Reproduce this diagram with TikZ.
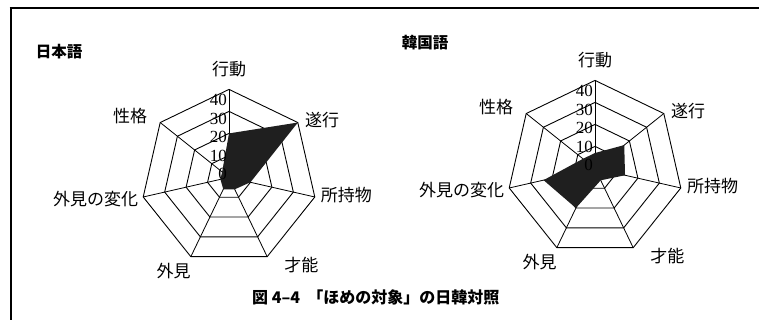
\documentclass[tikz,border=0pt]{standalone}
\usepackage{fontspec}
\newfontfamily\jpfont{Noto Sans CJK JP}
\newfontfamily\numfont{Liberation Serif}
\usetikzlibrary{positioning}
\tikzstyle{ring}=[draw,line width=0.9pt]
\tikzstyle{spoke}=[draw,line width=0.8pt]
\tikzstyle{datafill}=[fill=black!88]
\tikzstyle{axislabel}=[inner sep=0pt,font=\jpfont\fontsize{17}{17}\selectfont]
\tikzstyle{numlabel}=[inner sep=0pt,anchor=east,font=\numfont\fontsize{17}{17}\selectfont]
\tikzstyle{langlabel}=[inner sep=0pt,font=\jpfont\bfseries\fontsize{15.5}{15.5}\selectfont]
\tikzstyle{captionlabel}=[langlabel,anchor=west,font=\jpfont\bfseries\fontsize{16}{16}\selectfont]

\begin{document}
\begin{tikzpicture}[x=1pt, y=-1pt]
  \useasboundingbox (0,0) rectangle (759,320);
  \fill[white] (0,0) rectangle (759,320);
  % frame
  \draw[line width=2pt] (10.5,320) -- (10.5,8);
  \draw[line width=2.6pt] (9.5,8) -- (759,8);

  \foreach \c/\cx/\cy/\lang/\vals in {jp/229/177.4/日本語/{20,40,10,6,6,4,4},
                                      kr/595/168.4/韓国語/{7,17,14,6,20,24,7}} {
    \coordinate (\c-o) at (\cx,\cy);
    % rings
    \foreach \r in {22,44,66,88}
      \draw[ring] (\cx,\cy-\r) \foreach \k in {1,...,6}
        { -- ({\cx+\r*cos(90-\k*360/7)},{\cy-\r*sin(90-\k*360/7)}) } -- cycle;
    % spokes
    \foreach \k in {0,...,6} {
      \coordinate (\c-v\k) at ({\cx+88*cos(90-\k*360/7)},{\cy-88*sin(90-\k*360/7)});
      \draw[spoke] (\c-o) -- (\c-v\k);
    }
    % data
    \foreach \v [count=\k from 0] in \vals
      \coordinate (\c-d\k) at ({\cx+2.2*\v*cos(90-\k*360/7)},{\cy-2.2*\v*sin(90-\k*360/7)});
    \fill[datafill] (\c-d0) -- (\c-d1) -- (\c-d2) -- (\c-d3) -- (\c-d4)
      -- (\c-d5) -- (\c-d6) -- cycle;
    % scale
    \foreach \t [count=\v from 0] in {0,10,20,30,40}
      \node[numlabel] (\c-num\v) at (\cx-2,{\cy-3-18.5*\v}) {\t};
    % axis names
    \foreach \txt/\an/\dx/\dy [count=\k from 0] in {行動/south/0/-12,
        遂行/west/7/-2, 所持物/west/6/-2, 才能/north west/17/0,
        外見/north east/0/6, 外見の変化/east/-5/2, 性格/south east/-13/2}
      \node[axislabel, anchor=\an] (\c-lab\k) at ([shift={(\dx,\dy)}]\c-v\k) {\txt};
    \node[langlabel] (\c-lang) at ([shift={(-170,-38)}]\c-v0) {\lang};
  }

  \node[captionlabel] (caption) at (252,297) {図 4–4\ \ 「ほめの対象」の日韓対照};
\end{tikzpicture}
\end{document}
